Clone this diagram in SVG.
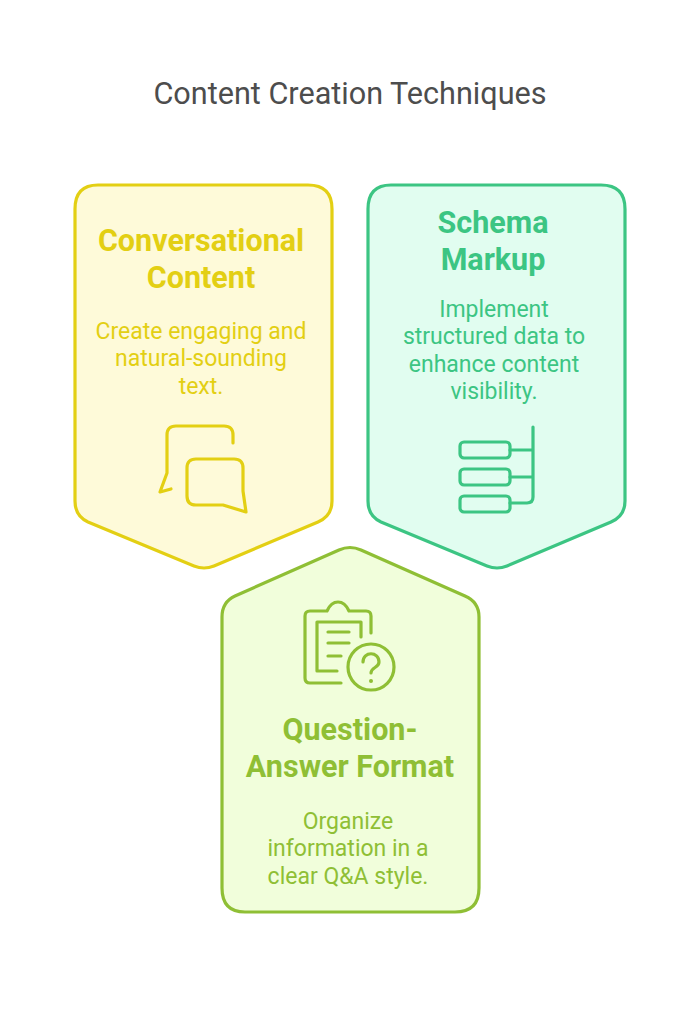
<svg xmlns="http://www.w3.org/2000/svg" width="700" height="1024" viewBox="0 0 700 1024">
<style>
text{font-family:Roboto,"Liberation Sans",sans-serif;text-anchor:middle}
.t{font-size:30.6px;fill:#4d4d4d}
.h{font-size:30.5px;font-weight:700}
.b{font-size:23px}
.ln{fill:none;stroke-width:3.2;stroke-linecap:round;stroke-linejoin:round}
.sh{stroke-width:3.2;stroke-linejoin:round}
.y{fill:#e3cf13}.ys{stroke:#e3cf13}
.g{fill:#3cc583}.gs{stroke:#3cc583}
.l{fill:#8fbf35}.ls{stroke:#8fbf35}
</style>
<rect width="700" height="1024" fill="#fff"/>
<text class="t" x="350" y="104">Content Creation Techniques</text>
<g id="node-conversational">
<path class="sh ys" fill="#fefad9" d="M98 185H308Q332 185 332 209V501Q332 516 318 522L214 566Q204 570 194 566L88 522Q75 516 75 501V209Q75 185 98 185Z"/>
<text class="h y" x="201" y="250.500">Conversational</text>
<text class="h y" x="201" y="287.500">Content</text>
<text class="b y" x="201" y="339">Create engaging and</text>
<text class="b y" x="201" y="366">natural-sounding</text>
<text class="b y" x="201" y="394">text.</text>
<path class="ln ys" d="M233 443V435Q233 426 224 426H176Q167 426 167 435V473L160 492L171 489"/>
<path class="ln ys" d="M196 459H234Q243 459 243 468V491L246 512L223 505H196Q187 505 187 496V468Q187 459 196 459Z"/>
</g>
<g id="node-schema">
<path class="sh gs" fill="#e1fdf0" d="M391 185H601Q625 185 625 209V501Q625 516 611 522L507 566Q497 570 487 566L381 522Q368 516 368 501V209Q368 185 391 185Z"/>
<text class="h g" x="493" y="232.500">Schema</text>
<text class="h g" x="493" y="269.500">Markup</text>
<text class="b g" x="494" y="316.500">Implement</text>
<text class="b g" x="494" y="344">structured data to</text>
<text class="b g" x="494" y="371.500">enhance content</text>
<text class="b g" x="494" y="398.500">visibility.</text>
<rect class="ln gs" x="460" y="442" width="50" height="16" rx="4"/>
<rect class="ln gs" x="460" y="469" width="50" height="16" rx="4"/>
<rect class="ln gs" x="460" y="496" width="50" height="16" rx="4"/>
<path class="ln gs" d="M533 427V497Q533 503 527 503H510M510 450H533M510 477H533"/>
</g>
<g id="node-question">
<path class="sh ls" fill="#f1fedb" d="M245 912H455Q479 912 479 888V617Q479 602 465 596L361 550Q350 545 339 550L235 596Q222 602 222 617V888Q222 912 245 912Z"/>
<text class="h l" x="350" y="739.500">Question-</text>
<text class="h l" x="350" y="776.500">Answer Format</text>
<text class="b l" x="348" y="828.500">Organize</text>
<text class="b l" x="348" y="855.500">information in a</text>
<text class="b l" x="348" y="883.500">clear Q&amp;A style.</text>
<path class="ln ls" d="M341 683H310Q305 683 305 678V616Q305 611 310 611H327Q331 602 338 602Q345 602 349 611H366Q371 611 371 616V633"/>
<path class="ln ls" d="M337 671H317V622H361V637"/>
<path class="ln ls" d="M328 632H349M328 643H349M328 656H341"/>
<circle class="ln ls" cx="371" cy="667" r="23"/>
<path class="ln ls" d="M363 662C363 651 379 651 379 662C379 668 371 667 371 673"/>
<circle class="l" cx="371" cy="681" r="2"/>
</g>
</svg>
